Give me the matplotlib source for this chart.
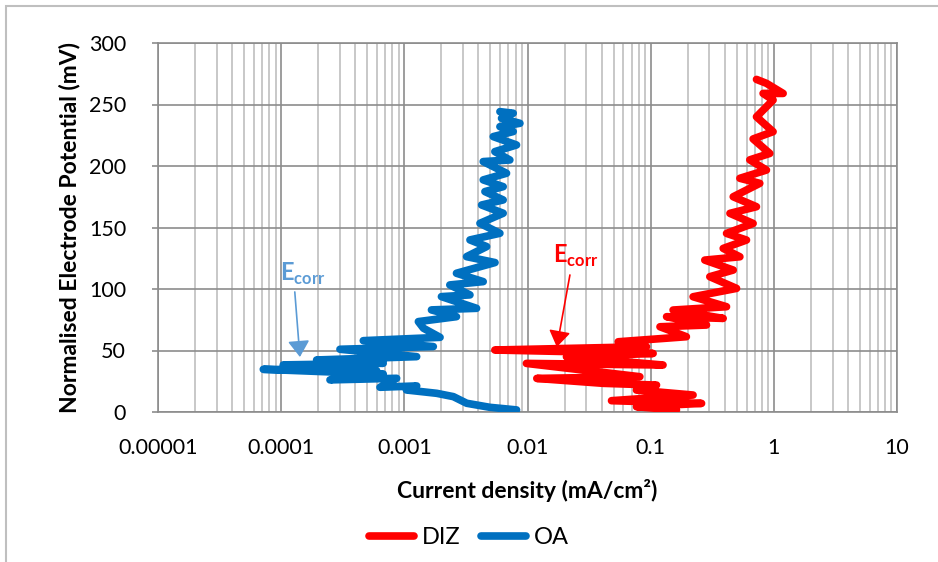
import numpy as np
import matplotlib.pyplot as plt
from matplotlib.patches import Rectangle
from matplotlib.ticker import FixedLocator, NullFormatter

plt.rcParams['font.family'] = ['Lato', 'DejaVu Sans']
plt.rcParams['mathtext.fontset'] = 'custom'
plt.rcParams['mathtext.rm'] = 'Lato'
plt.rcParams['mathtext.bf'] = 'Lato:bold'

# OA curve (current density mA/cm2, potential mV)
oa_i = [0.00815, 0.00495, 0.00321, 0.00250, 0.00183, 0.00104, 0.00126, 0.000634,
        0.000866, 0.000249, 0.000361, 0.000674, 0.0000716, 0.000596, 0.000104,
        0.000674, 0.000194, 0.00126, 0.000300, 0.00172, 0.000464, 0.00195,
        0.00143, 0.00130, 0.00265, 0.00166, 0.00386, 0.00200, 0.00341, 0.00234,
        0.00437, 0.00265, 0.00545, 0.00320, 0.00466, 0.00341, 0.00597, 0.00411,
        0.00635, 0.00424, 0.00635, 0.00451, 0.00635, 0.00437, 0.00676, 0.00437,
        0.00719, 0.00543, 0.00815, 0.00527, 0.00766, 0.00597, 0.00868, 0.00615,
        0.00766, 0.00597]
oa_e = [1.7, 3.8, 7.1, 12.5, 15.2, 17.9, 21.2, 20.1,
        27.4, 26.1, 30.1, 30.9, 34.7, 33.6, 38.3,
        39.6, 42.3, 45.0, 51.0, 53.2, 58.0, 60.7,
        68.1, 73.5, 77.5, 83.0, 84.3, 93.8, 95.2, 103.3,
        106.0, 112.8, 121.5, 126.3, 134.5, 139.9, 145.3, 153.4,
        161.6, 168.3, 172.4, 179.2, 183.2, 188.7, 194.1, 203.6,
        204.9, 211.7, 217.1, 223.9, 228.0, 232.0, 234.7, 238.8,
        242.9, 244.2]

# DIZ curve
diz_i = [0.162, 0.0767, 0.259, 0.0481, 0.221, 0.0767, 0.1116, 0.0412,
         0.0119, 0.0817, 0.0098, 0.126, 0.0207, 0.1047, 0.00543, 0.0925,
         0.0545, 0.195, 0.119, 0.284, 0.1346, 0.388, 0.152, 0.413,
         0.221, 0.498, 0.302, 0.468, 0.275, 0.530, 0.388, 0.600,
         0.413, 0.679, 0.440, 0.723, 0.468, 0.769, 0.530, 0.871,
         0.638, 0.927, 0.679, 0.986, 0.723, 0.986, 0.818, 1.19,
         0.871, 0.723]
diz_e = [1.6, 4.3, 7.0, 9.2, 13.8, 17.8, 21.9, 23.3,
         27.3, 28.7, 39.5, 38.2, 44.9, 47.6, 50.4, 53.1,
         57.1, 61.2, 69.3, 70.7, 77.5, 76.1, 82.9, 85.6,
         93.7, 100.5, 110.0, 115.4, 123.5, 126.2, 133.0, 139.8,
         145.2, 153.3, 161.5, 166.9, 175.0, 185.9, 190.0, 196.7,
         205.0, 210.2, 222.0, 227.9, 240.0, 253.6, 259.0, 259.0,
         267.2, 270.4]

x_ticks = [1e-5, 1e-4, 1e-3, 1e-2, 1e-1, 1, 10]
x_labels = ['0.00001', '0.0001', '0.001', '0.01', '0.1', '1', '10']
y_ticks = [0, 50, 100, 150, 200, 250, 300]

red = '#FF0000'
blue = '#0070C0'
lightblue = '#5B9BD5'

fig = plt.figure(figsize=(9.38, 5.62), dpi=100)
ax = fig.add_axes([158/938, 1 - 412/562, (897 - 158)/938, (412 - 43)/562])

ax.plot(diz_i, diz_e, color=red, lw=5.5, solid_capstyle='round', solid_joinstyle='round', label='DIZ', zorder=3)
ax.plot(oa_i, oa_e, color=blue, lw=5.5, solid_capstyle='round', solid_joinstyle='round', label='OA', zorder=3)

ax.set_xscale('log')
ax.set_xlim(1e-5, 10)
ax.set_ylim(0, 300)
ax.xaxis.set_major_locator(FixedLocator(x_ticks))
ax.set_xticklabels(x_labels, fontsize=15.5)
minors = [m * 10.0 ** d for d in range(-5, 1) for m in range(2, 10)]
ax.xaxis.set_minor_locator(FixedLocator(minors))
ax.xaxis.set_minor_formatter(NullFormatter())
ax.set_yticks(y_ticks)
ax.set_yticklabels([str(v) for v in y_ticks], fontsize=15.5)

ax.grid(which='major', color='#8C8C8C', lw=1.2, zorder=1)
ax.grid(which='minor', axis='x', color='#BFBFBF', lw=1.2, zorder=1)
ax.set_axisbelow(True)
for s in ax.spines.values():
    s.set_color('#8C8C8C')
    s.set_linewidth(1.2)
ax.tick_params(axis='x', which='both', length=0, pad=19)
ax.tick_params(axis='y', length=4, color='#8C8C8C', width=1.2, pad=19)

ax.set_xlabel('Current density (mA/cm²)', fontsize=16.5, fontweight='bold', labelpad=15)
ax.set_ylabel('Normalised Electrode Potential (mV)', fontsize=16.5, fontweight='bold', labelpad=6)

# Ecorr annotations
ax.annotate('', xy=(1.42e-4, 44.7), xytext=(1.29e-4, 97.6),
            arrowprops=dict(arrowstyle='-|>,head_length=0.45,head_width=0.3', color=lightblue, lw=1.2,
                            mutation_scale=22, shrinkA=0, shrinkB=0))
ax.text(9.8e-5, 107, r'E$_{\mathbf{corr}}$', color=lightblue, fontsize=17, fontweight='bold', ha='left', va='baseline')
ax.annotate('', xy=(0.0173, 52.8), xytext=(0.0221, 111.4),
            arrowprops=dict(arrowstyle='-|>,head_length=0.45,head_width=0.3', color=red, lw=1.2,
                            mutation_scale=22, shrinkA=0, shrinkB=0))
ax.text(0.0160, 121, r'E$_{\mathbf{corr}}$', color=red, fontsize=17, fontweight='bold', ha='left', va='baseline')

fig.legend(loc='center', bbox_to_anchor=(0.5, 1 - 538/562), ncol=2, frameon=False,
           fontsize=17, handlelength=1.9, columnspacing=0.85, handletextpad=0.35)

fig.patches.append(Rectangle((6/938, -0.1), 1.2, 1.1 - 6/562, transform=fig.transFigure,
                             fill=False, edgecolor='#BFBFBF', lw=1.5))

fig.savefig('out.png', dpi=100)
